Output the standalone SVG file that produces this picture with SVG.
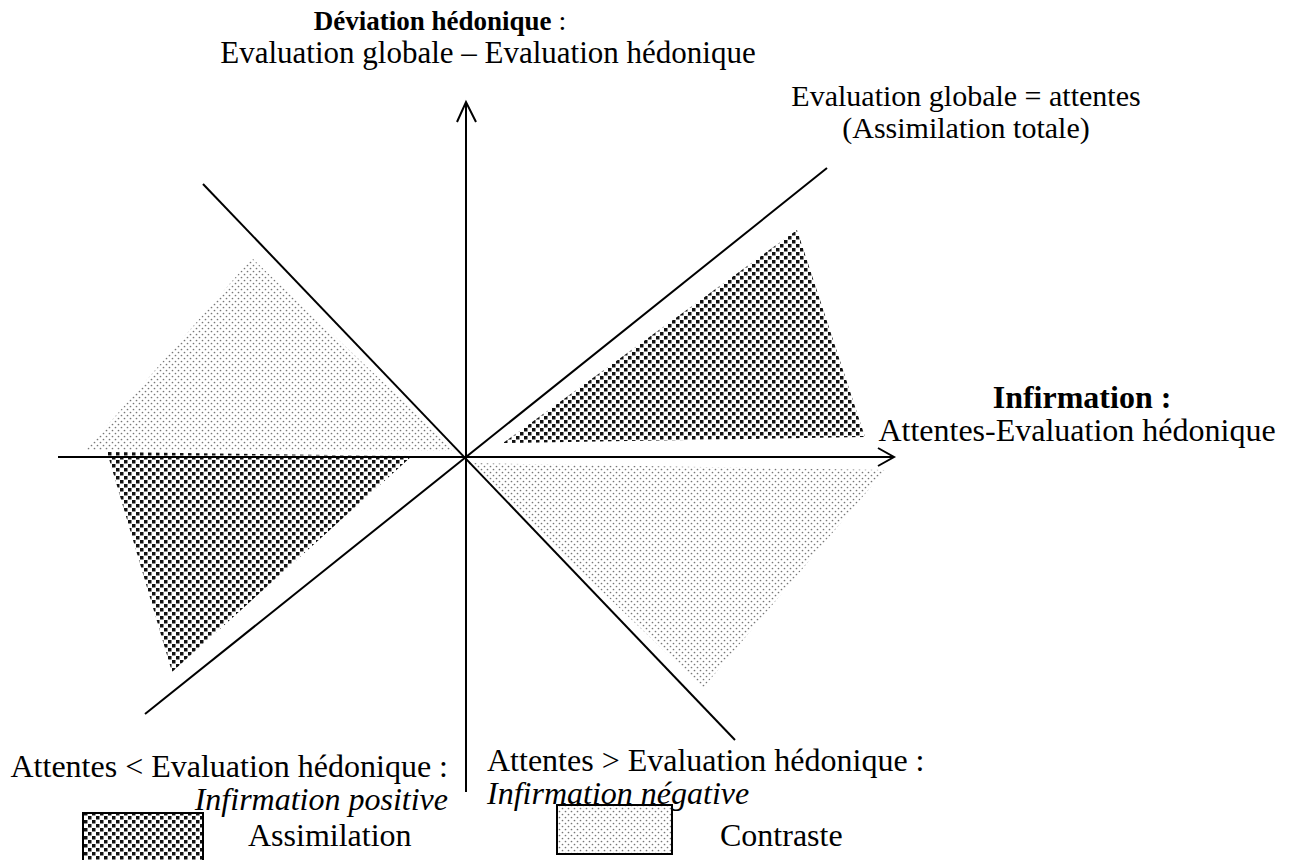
<svg xmlns="http://www.w3.org/2000/svg" width="1293" height="860" viewBox="0 0 1293 860">
<style>
.t{font-family:"Liberation Serif","Times New Roman",serif;font-size:32px;fill:#000}
.b{font-weight:bold}
.i{font-style:italic}
.ln{stroke:#000;stroke-width:2;fill:none}
.dark{fill:url(#pd)}
.light{fill:url(#pl)}
</style>
<defs>
<pattern id="pd" width="8" height="8" patternUnits="userSpaceOnUse">
<rect width="8" height="8" fill="#fff"/>
<rect x="0" y="0" width="3.5" height="3.5" fill="#111"/>
<rect x="4" y="4" width="3.5" height="3.5" fill="#111"/>
</pattern>
<pattern id="pl" width="6" height="6" patternUnits="userSpaceOnUse">
<rect width="6" height="6" fill="#fff"/>
<circle cx="1.5" cy="1.5" r="0.85" fill="#777"/>
<circle cx="4.5" cy="4.5" r="0.85" fill="#777"/>
</pattern>
</defs>
<g id="regions">
<polygon id="contrast-ul" class="light" points="252,258 86,450 456,451"/>
<polygon id="assim-ur" class="dark" points="797,230 865,437 503,443"/>
<polygon id="assim-ll" class="dark" points="107,452 412,456 172,672"/>
<polygon id="contrast-lr" class="light" points="468,463 885,470 703,688"/>
</g>
<g id="connectors">
<line class="ln" x1="58" y1="457" x2="893" y2="457"/>
<polyline class="ln" points="878,448 894,457 878,466"/>
<line class="ln" x1="466" y1="792" x2="466" y2="102"/>
<polyline class="ln" points="457,122 466,102 476,122"/>
<line class="ln" x1="145" y1="714" x2="827" y2="168"/>
<line class="ln" x1="203" y1="184" x2="735" y2="740"/>
</g>
<g id="label-y">
<text class="t" x="440" y="30" text-anchor="middle" style="font-size:28px"><tspan class="b" style="font-size:27px">Déviation hédonique</tspan> :</text>
<text class="t" x="488" y="63" text-anchor="middle" style="font-size:31px">Evaluation globale – Evaluation hédonique</text>
</g>
<g id="label-diag">
<text class="t" x="966" y="106" text-anchor="middle" style="font-size:30px">Evaluation globale = attentes</text>
<text class="t" x="966" y="138" text-anchor="middle" style="font-size:30px">(Assimilation totale)</text>
</g>
<g id="label-x">
<text class="t b" x="1082" y="408" text-anchor="middle">Infirmation :</text>
<text class="t" x="1077" y="441" text-anchor="middle">Attentes-Evaluation hédonique</text>
</g>
<g id="label-pos">
<text class="t" x="448" y="777" text-anchor="end">Attentes &lt; Evaluation hédonique :</text>
<text class="t i" x="448" y="810" text-anchor="end">Infirmation positive</text>
</g>
<g id="label-neg">
<text class="t" x="487" y="771">Attentes &gt; Evaluation hédonique :</text>
<text class="t i" x="487" y="804">Infirmation négative</text>
</g>
<g id="legend-assim">
<rect x="83" y="813" width="120" height="50" class="dark" stroke="#000" stroke-width="2"/>
<text class="t" x="248" y="846">Assimilation</text>
</g>
<g id="legend-contrast">
<rect x="557" y="805" width="115" height="49" class="light" stroke="#000" stroke-width="2"/>
<text class="t" x="720" y="846">Contraste</text>
</g>
</svg>
